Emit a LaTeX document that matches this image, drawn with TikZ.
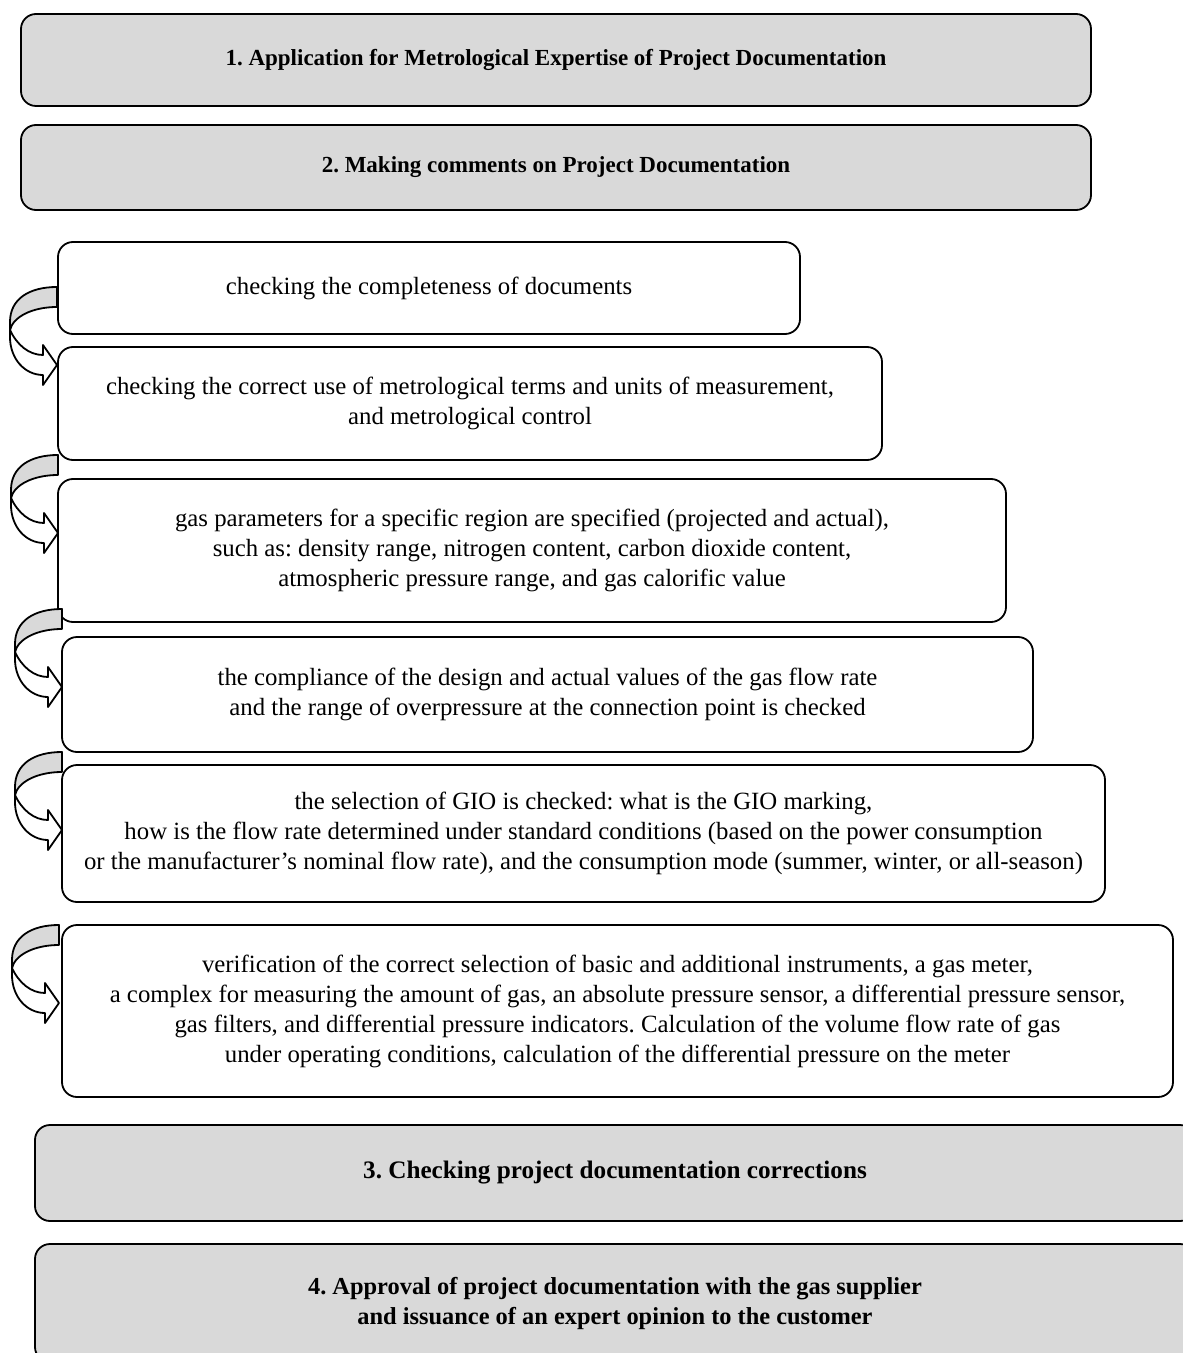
\documentclass[tikz,border=0pt]{standalone}
\usepackage{fontspec}
\setmainfont{Liberation Serif}
\usepackage{tikz}
\usetikzlibrary{positioning}
\frenchspacing

\definecolor{boxgray}{HTML}{D9D9D9}

\tikzset{
  stepbox/.style={draw, line width=0.9pt, rounded corners=7.5pt, align=center, inner sep=0pt,
    font=\fontsize{12.4}{15}\selectfont},
  mainbox/.style={stepbox, fill=boxgray, font=\fontsize{11.5}{15}\selectfont\bfseries},
  turnline/.style={line width=0.9pt, line join=round},
}

\begin{document}
\begin{tikzpicture}[x=0.5pt, y=-0.5pt]
  \useasboundingbox (0,0) rectangle (1182,1353);
  % Main stages
  \node[mainbox, minimum width=535pt, minimum height=46pt] (stage1) at (556,60)
    {1. Application for Metrological Expertise of Project Documentation};
  \node[mainbox, minimum width=535pt, minimum height=42.5pt] (stage2) at (556,167.5)
    {2. Making comments on Project Documentation};
  % Checks
  \node[stepbox, minimum width=371pt, minimum height=46pt] (checkA) at (429,288)
    {checking the completeness of documents};
  \node[stepbox, minimum width=412pt, minimum height=56.5pt] (checkB) at (470,403.5)
    {checking the correct use of metrological terms and units of measurement,\\
     and metrological control};
  \node[stepbox, minimum width=474pt, minimum height=71.5pt] (checkC) at (532,550.5)
    {gas parameters for a specific region are specified (projected and actual),\\
     such as: density range, nitrogen content, carbon dioxide content,\\
     atmospheric pressure range, and gas calorific value};
  \node[stepbox, minimum width=485.5pt, minimum height=57.5pt] (checkD) at (547.5,694.5)
    {the compliance of the design and actual values of the gas flow rate\\
     and the range of overpressure at the connection point is checked};
  \node[stepbox, minimum width=521.5pt, minimum height=68.5pt] (checkE) at (583.5,833.5)
    {the selection of GIO is checked: what is the GIO marking,\\
     how is the flow rate determined under standard conditions (based on the power consumption\\
     or the manufacturer's nominal flow rate), and the consumption mode (summer, winter, or all-season)};
  \node[stepbox, minimum width=555.5pt, minimum height=86pt] (checkF) at (617.5,1011)
    {verification of the correct selection of basic and additional instruments, a gas meter,\\
     a complex for measuring the amount of gas, an absolute pressure sensor, a differential pressure sensor,\\
     gas filters, and differential pressure indicators. Calculation of the volume flow rate of gas\\
     under operating conditions, calculation of the differential pressure on the meter};
  % Last stages
  \node[mainbox, minimum width=580pt, minimum height=48pt, font=\fontsize{12.6}{15}\selectfont\bfseries]
    (stage3) at (615,1173) {3. Checking project documentation corrections};
  \node[mainbox, minimum width=580pt, minimum height=59pt, font=\fontsize{12.2}{15}\selectfont\bfseries]
    (stage4) at (615,1303)
    {4. Approval of project documentation with the gas supplier\\
     and issuance of an expert opinion to the customer};
  % Curved arrows between checks
  \foreach \ax/\ay in {57/287, 58/455, 62/609, 62/752, 59/925} {
    \begin{scope}[shift={(\ax,\ay)}]
      \filldraw[turnline, fill=boxgray] (0,0) .. controls (-28,0) and (-47,12) .. (-47,35)
        -- (-47,43) .. controls (-44,30) and (-25,20) .. (0,20) -- cycle;
      \filldraw[turnline, fill=white] (-47,43) .. controls (-40,58) and (-28,68) .. (-14,68)
        -- (-14,58) -- (0,78) -- (-14,98) -- (-14,88)
        .. controls (-32,88) and (-47,72) .. (-47,50) -- cycle;
    \end{scope}
  }
\end{tikzpicture}
\end{document}
